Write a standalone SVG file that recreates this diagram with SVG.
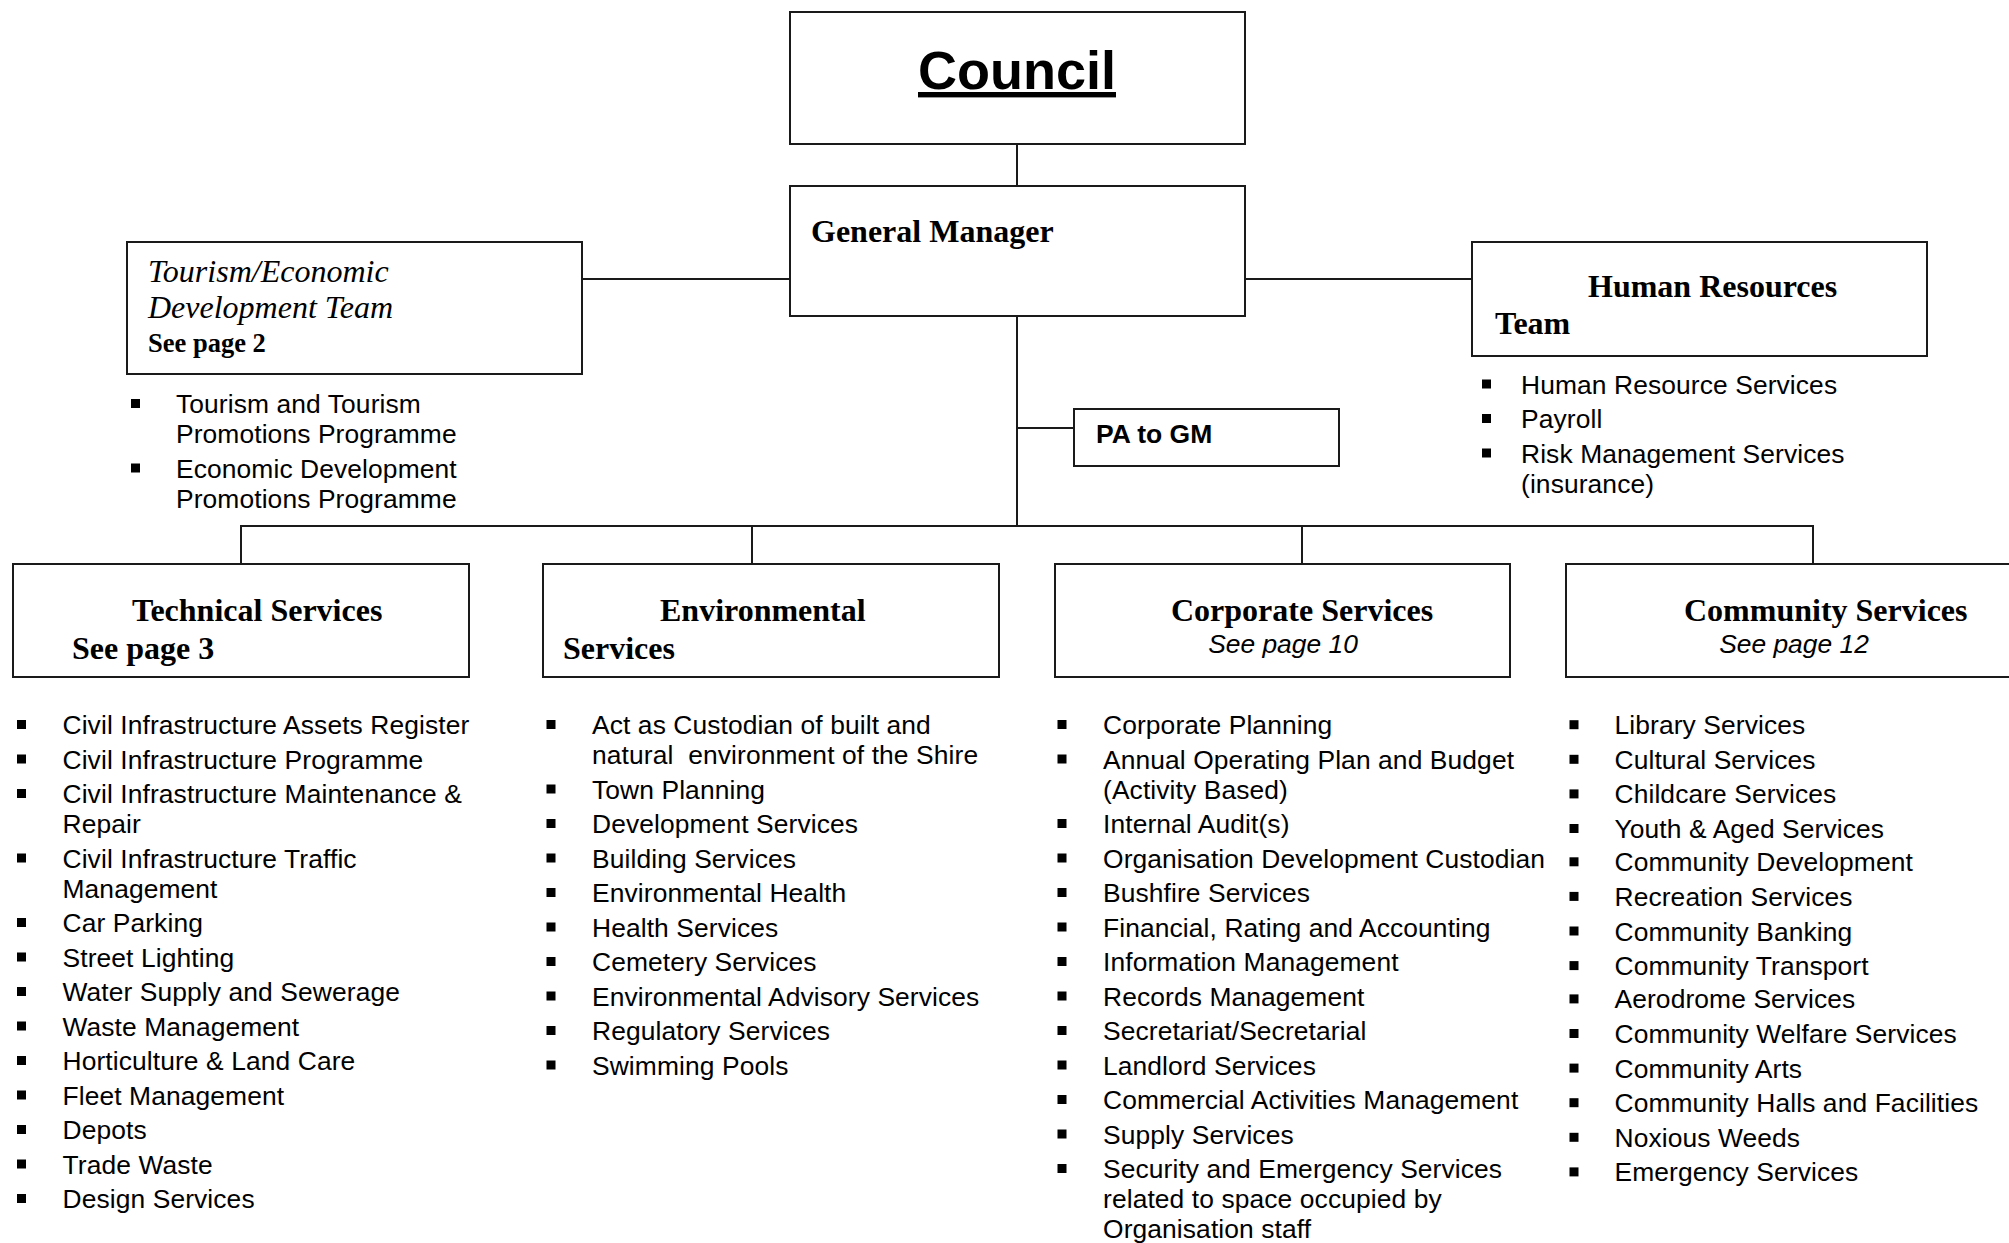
<svg xmlns="http://www.w3.org/2000/svg" xmlns:xlink="http://www.w3.org/1999/xlink" width="2009" height="1243" viewBox="0 0 2009 1243">
  <style>
    .box { fill: #ffffff; stroke: #1a1a1a; stroke-width: 2; }
    .ln { fill: none; stroke: #1a1a1a; stroke-width: 2; }
    .serifB { font-family: "Liberation Serif", "Times New Roman", serif; font-weight: bold; font-size: 32px; fill: #000; }
    .serifI { font-family: "Liberation Serif", "Times New Roman", serif; font-style: italic; font-size: 32px; fill: #000; }
    .serifSm { font-family: "Liberation Serif", "Times New Roman", serif; font-weight: bold; font-size: 26.5px; fill: #000; }
    .sans { font-family: "Liberation Sans", Arial, sans-serif; font-size: 26.4px; letter-spacing: 0.1px; fill: #000; }
    .sansI { font-family: "Liberation Sans", Arial, sans-serif; font-style: italic; font-size: 26.4px; fill: #000; }
    .sansB { font-family: "Liberation Sans", Arial, sans-serif; font-weight: bold; font-size: 26.5px; fill: #000; }
    .title { font-family: "Liberation Sans", Arial, sans-serif; font-weight: bold; font-size: 54px; fill: #000; text-decoration: underline; }
  </style>
  <defs>
    <rect id="b" width="9" height="9" fill="#000"/>
  </defs>
  <rect width="2009" height="1243" fill="#ffffff"/>

  <!-- reporting lines -->
  <g id="connectors">
    <line class="ln" x1="1017" y1="144" x2="1017" y2="186"/>
    <line class="ln" x1="582" y1="279" x2="790" y2="279"/>
    <line class="ln" x1="1244" y1="279" x2="1472" y2="279"/>
    <line class="ln" x1="1017" y1="316" x2="1017" y2="526"/>
    <line class="ln" x1="1017" y1="428" x2="1074" y2="428"/>
    <line class="ln" x1="240" y1="526" x2="1814" y2="526"/>
    <line class="ln" x1="241" y1="525" x2="241" y2="564"/>
    <line class="ln" x1="752" y1="525" x2="752" y2="564"/>
    <line class="ln" x1="1302" y1="525" x2="1302" y2="564"/>
    <line class="ln" x1="1813" y1="525" x2="1813" y2="564"/>
  </g>

  <g id="council">
    <rect class="box" x="790" y="12" width="455" height="132"/>
    <text class="title" x="1017" y="89" text-anchor="middle">Council</text>
  </g>

  <g id="general-manager">
    <rect class="box" x="790" y="186" width="455" height="130"/>
    <text class="serifB" x="811" y="242">General Manager</text>
  </g>

  <g id="pa-to-gm">
    <rect class="box" x="1074" y="409" width="265" height="57"/>
    <text class="sansB" x="1096" y="443">PA to GM</text>
  </g>

  <g id="tourism-economic">
    <rect class="box" x="127" y="242" width="455" height="132"/>
    <text class="serifI" x="148" y="282">Tourism/Economic</text>
    <text class="serifI" x="148" y="318">Development Team</text>
    <text class="serifSm" x="148" y="352">See page 2</text>
    <use href="#b" x="131" y="399"/>
    <use href="#b" x="131" y="463.5"/>
    <text class="sans">
      <tspan x="176" y="413">Tourism and Tourism</tspan>
      <tspan x="176" y="443">Promotions Programme</tspan>
      <tspan x="176" y="477.5">Economic Development</tspan>
      <tspan x="176" y="507.5">Promotions Programme</tspan>
    </text>
  </g>

  <g id="human-resources">
    <rect class="box" x="1472" y="242" width="455" height="114"/>
    <text class="serifB" x="1588" y="297">Human Resources</text>
    <text class="serifB" x="1495" y="334">Team</text>
    <use href="#b" x="1482" y="379.5"/>
    <use href="#b" x="1482" y="414"/>
    <use href="#b" x="1482" y="448.5"/>
    <text class="sans">
      <tspan x="1521" y="393.5">Human Resource Services</tspan>
      <tspan x="1521" y="428">Payroll</tspan>
      <tspan x="1521" y="462.5">Risk Management Services</tspan>
      <tspan x="1521" y="492.5">(insurance)</tspan>
    </text>
  </g>

  <g id="technical-services">
    <rect class="box" x="13" y="564" width="456" height="113"/>
    <text class="serifB" x="132" y="620.5">Technical Services</text>
    <text class="serifB" x="72" y="659">See page 3</text>
    <use href="#b" x="17" y="720"/>
    <use href="#b" x="17" y="754.5"/>
    <use href="#b" x="17" y="789"/>
    <use href="#b" x="17" y="853.5"/>
    <use href="#b" x="17" y="918"/>
    <use href="#b" x="17" y="952.5"/>
    <use href="#b" x="17" y="987"/>
    <use href="#b" x="17" y="1021.5"/>
    <use href="#b" x="17" y="1056"/>
    <use href="#b" x="17" y="1090.5"/>
    <use href="#b" x="17" y="1125"/>
    <use href="#b" x="17" y="1159.5"/>
    <use href="#b" x="17" y="1194"/>
    <text class="sans">
      <tspan x="62.5" y="734">Civil Infrastructure Assets Register</tspan>
      <tspan x="62.5" y="768.5">Civil Infrastructure Programme</tspan>
      <tspan x="62.5" y="803">Civil Infrastructure Maintenance &amp;</tspan>
      <tspan x="62.5" y="833">Repair</tspan>
      <tspan x="62.5" y="867.5">Civil Infrastructure Traffic</tspan>
      <tspan x="62.5" y="897.5">Management</tspan>
      <tspan x="62.5" y="932">Car Parking</tspan>
      <tspan x="62.5" y="966.5">Street Lighting</tspan>
      <tspan x="62.5" y="1001">Water Supply and Sewerage</tspan>
      <tspan x="62.5" y="1035.5">Waste Management</tspan>
      <tspan x="62.5" y="1070">Horticulture &amp; Land Care</tspan>
      <tspan x="62.5" y="1104.5">Fleet Management</tspan>
      <tspan x="62.5" y="1139">Depots</tspan>
      <tspan x="62.5" y="1173.5">Trade Waste</tspan>
      <tspan x="62.5" y="1208">Design Services</tspan>
    </text>
  </g>

  <g id="environmental-services">
    <rect class="box" x="543" y="564" width="456" height="113"/>
    <text class="serifB" x="660" y="620.5">Environmental</text>
    <text class="serifB" x="563" y="659">Services</text>
    <use href="#b" x="546.5" y="720"/>
    <use href="#b" x="546.5" y="784.5"/>
    <use href="#b" x="546.5" y="819"/>
    <use href="#b" x="546.5" y="853.5"/>
    <use href="#b" x="546.5" y="888"/>
    <use href="#b" x="546.5" y="922.5"/>
    <use href="#b" x="546.5" y="957"/>
    <use href="#b" x="546.5" y="991.5"/>
    <use href="#b" x="546.5" y="1026"/>
    <use href="#b" x="546.5" y="1060.5"/>
    <text class="sans">
      <tspan x="592" y="734">Act as Custodian of built and</tspan>
      <tspan x="592" y="764">natural&#160; environment of the Shire</tspan>
      <tspan x="592" y="798.5">Town Planning</tspan>
      <tspan x="592" y="833">Development Services</tspan>
      <tspan x="592" y="867.5">Building Services</tspan>
      <tspan x="592" y="902">Environmental Health</tspan>
      <tspan x="592" y="936.5">Health Services</tspan>
      <tspan x="592" y="971">Cemetery Services</tspan>
      <tspan x="592" y="1005.5">Environmental Advisory Services</tspan>
      <tspan x="592" y="1040">Regulatory Services</tspan>
      <tspan x="592" y="1074.5">Swimming Pools</tspan>
    </text>
  </g>

  <g id="corporate-services">
    <rect class="box" x="1055" y="564" width="455" height="113"/>
    <text class="serifB" x="1171" y="620.5">Corporate Services</text>
    <text class="sansI" x="1283" y="652.5" text-anchor="middle">See page 10</text>
    <use href="#b" x="1057.5" y="720"/>
    <use href="#b" x="1057.5" y="754.5"/>
    <use href="#b" x="1057.5" y="819"/>
    <use href="#b" x="1057.5" y="853.5"/>
    <use href="#b" x="1057.5" y="888"/>
    <use href="#b" x="1057.5" y="922.5"/>
    <use href="#b" x="1057.5" y="957"/>
    <use href="#b" x="1057.5" y="991.5"/>
    <use href="#b" x="1057.5" y="1026"/>
    <use href="#b" x="1057.5" y="1060.5"/>
    <use href="#b" x="1057.5" y="1095"/>
    <use href="#b" x="1057.5" y="1129.5"/>
    <use href="#b" x="1057.5" y="1164"/>
    <text class="sans">
      <tspan x="1103" y="734">Corporate Planning</tspan>
      <tspan x="1103" y="768.5">Annual Operating Plan and Budget</tspan>
      <tspan x="1103" y="798.5">(Activity Based)</tspan>
      <tspan x="1103" y="833">Internal Audit(s)</tspan>
      <tspan x="1103" y="867.5">Organisation Development Custodian</tspan>
      <tspan x="1103" y="902">Bushfire Services</tspan>
      <tspan x="1103" y="936.5">Financial, Rating and Accounting</tspan>
      <tspan x="1103" y="971">Information Management</tspan>
      <tspan x="1103" y="1005.5">Records Management</tspan>
      <tspan x="1103" y="1040">Secretariat/Secretarial</tspan>
      <tspan x="1103" y="1074.5">Landlord Services</tspan>
      <tspan x="1103" y="1109">Commercial Activities Management</tspan>
      <tspan x="1103" y="1143.5">Supply Services</tspan>
      <tspan x="1103" y="1178">Security and Emergency Services</tspan>
      <tspan x="1103" y="1208">related to space occupied by</tspan>
      <tspan x="1103" y="1238">Organisation staff</tspan>
    </text>
  </g>

  <g id="community-services">
    <rect class="box" x="1566" y="564" width="456" height="113"/>
    <text class="serifB" x="1684" y="620.5">Community Services</text>
    <text class="sansI" x="1794" y="652.5" text-anchor="middle">See page 12</text>
    <use href="#b" x="1569.5" y="720.2"/>
    <use href="#b" x="1569.5" y="754.8"/>
    <use href="#b" x="1569.5" y="789.4"/>
    <use href="#b" x="1569.5" y="824"/>
    <use href="#b" x="1569.5" y="857.3"/>
    <use href="#b" x="1569.5" y="891.9"/>
    <use href="#b" x="1569.5" y="926.5"/>
    <use href="#b" x="1569.5" y="961.1"/>
    <use href="#b" x="1569.5" y="994.4"/>
    <use href="#b" x="1569.5" y="1029"/>
    <use href="#b" x="1569.5" y="1063.6"/>
    <use href="#b" x="1569.5" y="1098.2"/>
    <use href="#b" x="1569.5" y="1132.8"/>
    <use href="#b" x="1569.5" y="1167.4"/>
    <text class="sans">
      <tspan x="1614.5" y="734.2">Library Services</tspan>
      <tspan x="1614.5" y="768.8">Cultural Services</tspan>
      <tspan x="1614.5" y="803.4">Childcare Services</tspan>
      <tspan x="1614.5" y="838">Youth &amp; Aged Services</tspan>
      <tspan x="1614.5" y="871.3">Community Development</tspan>
      <tspan x="1614.5" y="905.9">Recreation Services</tspan>
      <tspan x="1614.5" y="940.5">Community Banking</tspan>
      <tspan x="1614.5" y="975.1">Community Transport</tspan>
      <tspan x="1614.5" y="1008.4">Aerodrome Services</tspan>
      <tspan x="1614.5" y="1043">Community Welfare Services</tspan>
      <tspan x="1614.5" y="1077.6">Community Arts</tspan>
      <tspan x="1614.5" y="1112.2">Community Halls and Facilities</tspan>
      <tspan x="1614.5" y="1146.8">Noxious Weeds</tspan>
      <tspan x="1614.5" y="1181.4">Emergency Services</tspan>
    </text>
  </g>
</svg>
